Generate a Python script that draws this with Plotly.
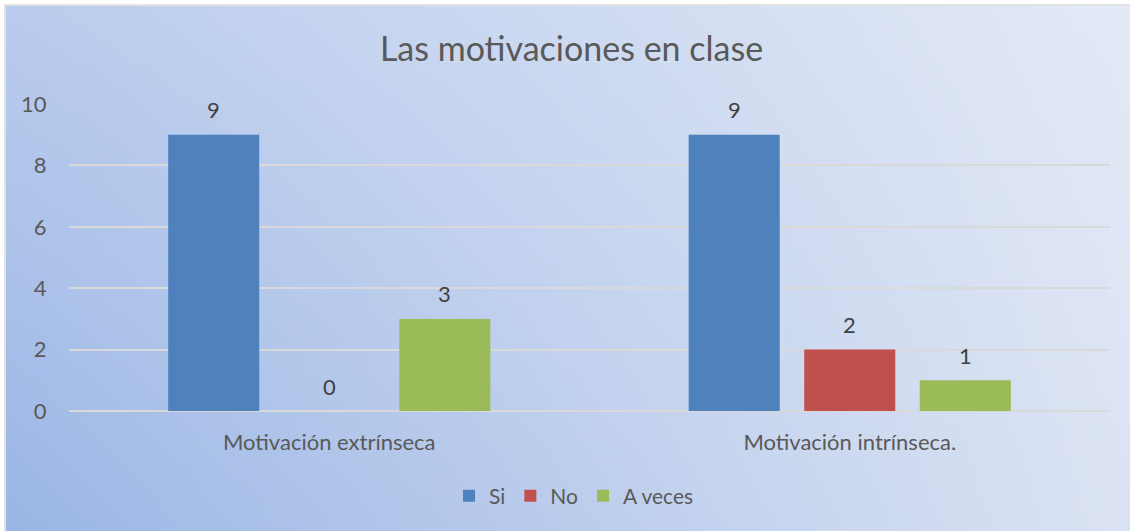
import base64, struct, zlib
import plotly.graph_objects as go

# ---- data ----
categories = ["Motivación extrínseca", "Motivación intrínseca."]
series_names = ["Si", "No", "A veces"]
si_values = [9, 9]
no_values = [0, 2]
aveces_values = [3, 1]
y_ticks = [0, 2, 4, 6, 8, 10]
title_text = "Las motivaciones en clase"

colors = ["#4F81BD", "#C0504D", "#9BBB59"]

# ---- gradient background image (style only) ----
def gradient_png(w, h, tl, tr, bl, br):
    raw = b""
    for j in range(h):
        v = j / (h - 1)
        row = b"\x00"
        for i in range(w):
            u = i / (w - 1)
            px = []
            for k in range(3):
                top = tl[k] * (1 - u) + tr[k] * u
                bot = bl[k] * (1 - u) + br[k] * u
                px.append(int(round(top * (1 - v) + bot * v)))
            row += bytes(px)
        raw += row
    def chunk(t, d):
        c = struct.pack(">I", len(d)) + t + d
        return c + struct.pack(">I", zlib.crc32(t + d) & 0xffffffff)
    png = b"\x89PNG\r\n\x1a\n"
    png += chunk(b"IHDR", struct.pack(">IIBBBBB", w, h, 8, 2, 0, 0, 0))
    png += chunk(b"IDAT", zlib.compress(raw, 9))
    png += chunk(b"IEND", b"")
    return "data:image/png;base64," + base64.b64encode(png).decode()

bg = gradient_png(120, 60, (186, 204, 237), (227, 233, 246), (155, 182, 229), (219, 227, 243))

W, H = 1130, 531
L, R, T, B = 69, 20, 104, 120
pw, ph = W - L - R, H - T - B

def px_x(x):
    return (x - L) / pw

def px_y(y):
    return 1 - (y - T) / ph

fig = go.Figure()
all_values = [si_values, no_values, aveces_values]
for name, vals, col in zip(series_names, all_values, colors):
    fig.add_trace(go.Bar(
        x=categories, y=vals, name=name, marker_color=col,
        marker_line_width=0,
    ))

# value labels above bars (offset per series within group)
slot_px = 115.5
annotations = []
for si, vals in enumerate(all_values):
    for cat, v in zip(categories, vals):
        annotations.append(dict(
            x=cat, y=v, xref="x", yref="y", text=str(v), showarrow=False,
            xshift=(si - 1) * slot_px, yshift=25, yanchor="middle",
            font=dict(size=22, color="#404040", family="Lato"),
        ))

fig.update_layout(
    width=W, height=H,
    margin=dict(l=L, r=R, t=T, b=B),
    paper_bgcolor="white",
    plot_bgcolor="rgba(0,0,0,0)",
    barmode="group", bargap=0.334, bargroupgap=0.212,
    font=dict(family="Lato", color="#595959", size=22),
    title=dict(text=title_text, x=571.5 / W, xref="container", xanchor="center",
               y=1 - 49 / H, yref="container", yanchor="middle",
               font=dict(size=34, color="#595959", family="Lato")),
    showlegend=True,
    legend=dict(orientation="h", x=px_x(574), xanchor="center", y=px_y(496), yanchor="middle",
                font=dict(size=21, color="#595959"), bgcolor="rgba(0,0,0,0)", traceorder="normal"),
    yaxis=dict(range=[0, 10], tickvals=y_ticks, showgrid=True, gridcolor="#D9D9D9", gridwidth=1.5,
               zeroline=True, zerolinecolor="#D9D9D9", zerolinewidth=1.5, showline=False,
               ticks="outside", ticklen=17, tickcolor="rgba(0,0,0,0)",
               tickfont=dict(size=22, color="#595959")),
    xaxis=dict(showgrid=False, showline=False, ticks="outside", ticklen=12,
               tickcolor="rgba(0,0,0,0)", tickfont=dict(size=22, color="#595959")),
    annotations=annotations,
    images=[dict(source=bg, xref="paper", yref="paper",
                 x=px_x(6), y=px_y(6), sizex=(W - 6) / pw, sizey=(H - 6) / ph,
                 xanchor="left", yanchor="top", sizing="stretch", layer="below")],
    shapes=[dict(type="rect", xref="paper", yref="paper",
                 x0=px_x(5), x1=px_x(W + 5), y0=px_y(5), y1=px_y(H + 5),
                 line=dict(color="#D9D9D9", width=1.5), fillcolor="rgba(0,0,0,0)", layer="below")],
)

fig.write_html("out.html", config={"displayModeBar": False},
               post_script="document.body.style.margin='0';document.body.style.overflow='hidden';")
